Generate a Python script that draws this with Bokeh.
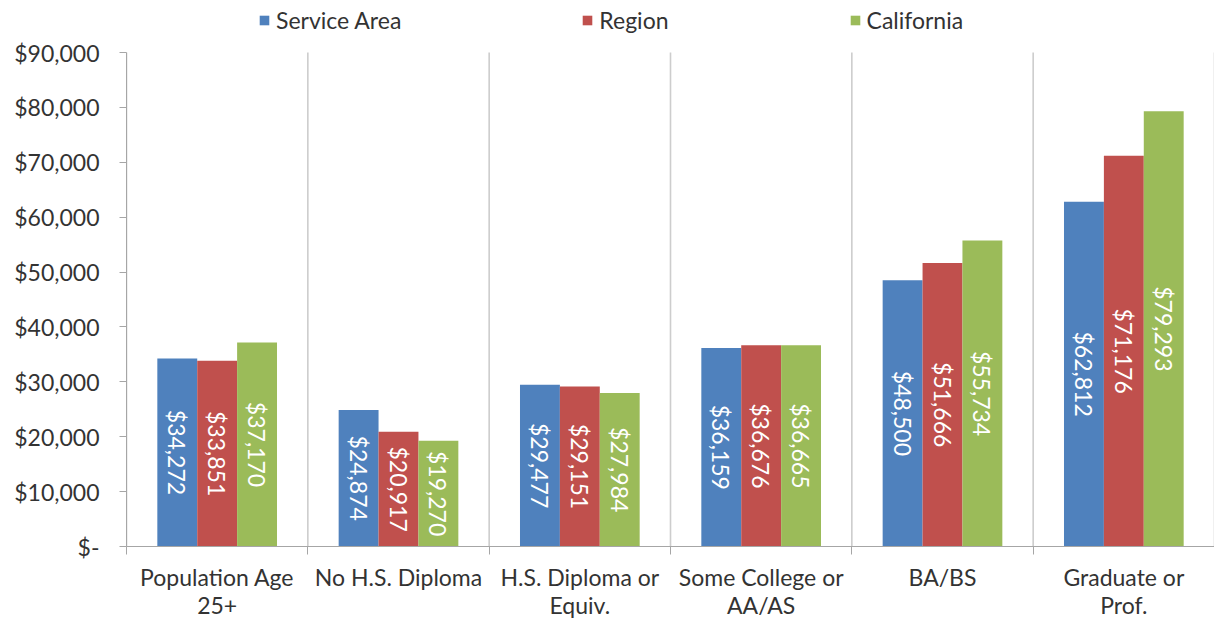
import math
from bokeh.plotting import figure
from bokeh.models import (ColumnDataSource, FixedTicker, NumeralTickFormatter,
                          Legend, LegendItem, Range1d)
from bokeh.core.properties import value
from bokeh.embed import file_html
from bokeh.resources import INLINE

categories = ["Population Age\n25+", "No H.S. Diploma", "H.S. Diploma or\nEquiv.",
              "Some College or\nAA/AS", "BA/BS", "Graduate or\nProf."]
series_names = ["Service Area", "Region", "California"]
service_area = [34272, 24874, 29477, 36159, 48500, 62812]
region = [33851, 20917, 29151, 36676, 51666, 71176]
california = [37170, 19270, 27984, 36665, 55734, 79293]
y_ticks = [0, 10000, 20000, 30000, 40000, 50000, 60000, 70000, 80000, 90000]

colors = ["#4f81bd", "#c0504d", "#9bbb59"]
FONT = "Lato"
FS = "23px"
TXT = "#333333"
n = len(categories)
centers = [i + 0.5 for i in range(n)]
bounds = list(range(n + 1))
bar_w = 0.22

# frame spans pixel rows 2..546; the axis top ($90,000) sits at row 52
H = 622
Y_MAX = y_ticks[-1]
frame_top, axis_top, axis_bottom = 2, 52, 546
y_end = Y_MAX * (axis_bottom - frame_top) / (axis_bottom - axis_top)

p = figure(width=1214, height=H, output_backend="svg", toolbar_location=None,
           x_range=Range1d(0, n), y_range=Range1d(0, y_end),
           min_border_left=126, min_border_right=0, min_border_top=frame_top,
           min_border_bottom=H - axis_bottom, outline_line_color=None)

# vertical separators between categories
p.segment(x0=bounds, x1=bounds, y0=[0] * len(bounds), y1=[Y_MAX] * len(bounds),
          line_color="#cdcdcd", line_width=1.6)

renderers = []
for k, (name, vals) in enumerate(zip(series_names, [service_area, region, california])):
    off = (k - 1) * bar_w
    xs = [c + off for c in centers]
    src = ColumnDataSource(dict(x=xs, top=vals, mid=[v / 2 for v in vals],
                                lab=["${:,}".format(v) for v in vals]))
    r = p.vbar(x="x", top="top", width=bar_w, source=src, fill_color=colors[k],
               line_color=None)
    renderers.append((name, r))
    p.text(x="x", y="mid", text="lab", source=src, angle=-math.pi / 2,
           text_align="center", text_baseline="middle", text_color="white",
           text_font=value(FONT), text_font_size=FS)

# axes
p.xaxis.ticker = FixedTicker(ticks=centers, minor_ticks=bounds)
p.xaxis.major_label_overrides = {c: lab for c, lab in zip(centers, categories)}
p.xaxis.major_tick_line_color = None
p.xaxis.minor_tick_out = 8
p.xaxis.minor_tick_in = 0
p.xaxis.minor_tick_line_color = "#a6a6a6"
p.xaxis.axis_line_color = "#a6a6a6"
p.xaxis.major_label_text_font = FONT
p.xaxis.major_label_text_font_size = FS
p.xaxis.major_label_text_color = TXT
p.xaxis.major_label_text_line_height = 1.0
p.xaxis.major_label_standoff = 8

p.yaxis.ticker = FixedTicker(ticks=y_ticks, minor_ticks=[])
p.yaxis.bounds = (0, Y_MAX)
p.yaxis.formatter = NumeralTickFormatter(format="$0,0")
p.yaxis.major_label_overrides = {0: "$-"}
p.yaxis.major_tick_in = 0
p.yaxis.major_tick_out = 7
p.yaxis.major_tick_line_color = "#a6a6a6"
p.yaxis.axis_line_color = "#a6a6a6"
p.yaxis.major_label_text_font = FONT
p.yaxis.major_label_text_font_size = FS
p.yaxis.major_label_text_color = TXT
p.yaxis.major_label_standoff = 20

p.xgrid.grid_line_color = None
p.ygrid.grid_line_color = None

legend = Legend(items=[LegendItem(label=nm, renderers=[r]) for nm, r in renderers],
                orientation="horizontal", location=(132, 512), spacing=180,
                label_text_font=FONT, label_text_font_size=FS,
                label_text_color=TXT, glyph_width=12, glyph_height=12,
                label_standoff=6, border_line_color=None, background_fill_alpha=0,
                padding=0, margin=0)
p.add_layout(legend, "center")

open("out.html", "w").write(file_html(p, INLINE))
